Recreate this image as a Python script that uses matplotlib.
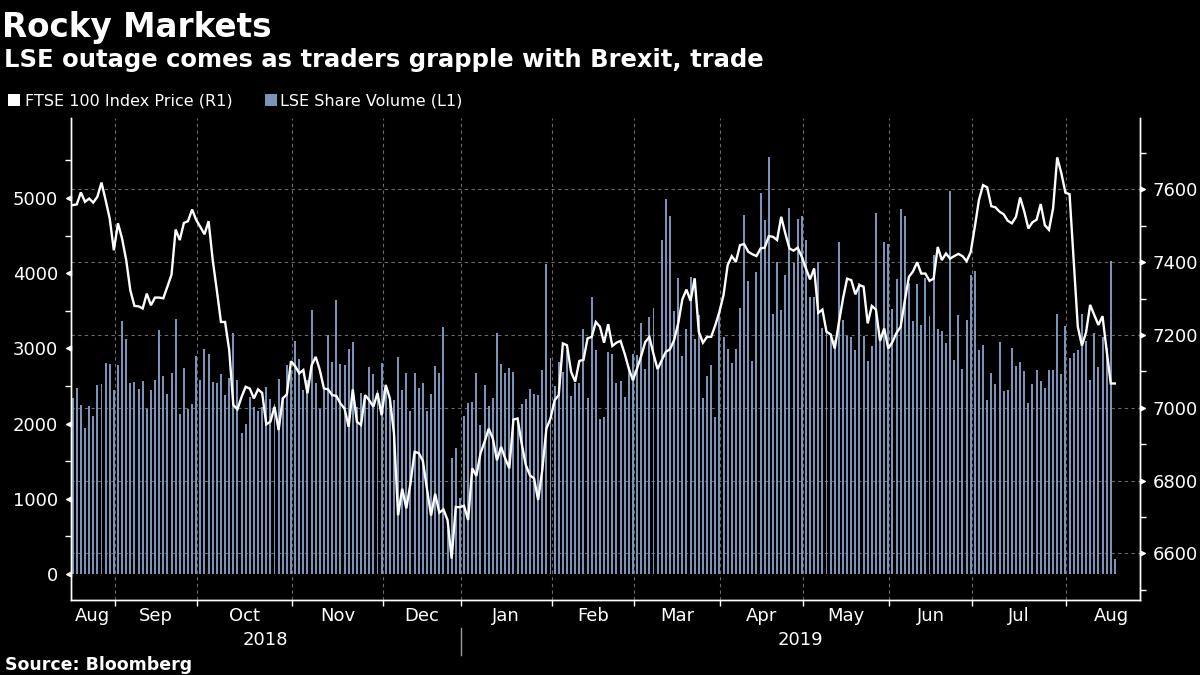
import matplotlib
matplotlib.use("Agg")
import matplotlib.pyplot as plt
import matplotlib.transforms as mtrans
from matplotlib.patches import Rectangle
import numpy as np
import pandas as pd

# ---------------- data ----------------
start_date = "2018-08-16"
end_date = "2019-08-16"
uk_holidays = ["2018-08-27", "2018-12-25", "2018-12-26", "2019-01-01",
               "2019-04-19", "2019-04-22", "2019-05-06", "2019-05-27"]

volume = [
    2334, 2471, 2245, 1944, 2232, 2099, 2511, 2524, 2804, 2790,
    2445, 2777, 3362, 3122, 2538, 2551, 2458, 2564, 2192, 2445,
    2578, 3242, 2631, 2391, 2671, 3388, 2126, 2737, 2192, 2259,
    2897, 2578, 2990, 2923, 2551, 2538, 2657, 2378, 2600, 3202,
    2578, 1873, 1993, 2352, 2219, 2166, 2219, 2485, 2325, 2259,
    2591, 2352, 2777, 2711, 3096, 2857, 2445, 2578, 3508, 2538,
    2192, 2445, 3176, 2817, 3641, 2790, 2777, 2990, 3083, 2223,
    2405, 2378, 2750, 2657, 2445, 2804, 2445, 2312, 2312, 2883,
    2445, 2671, 2166, 2671, 2471, 2538, 2166, 2392, 2764, 2671,
    3282, 600, 1541, 1674, 1010, 2099, 2272, 2285, 2671, 1980,
    2511, 2232, 2338, 3202, 2790, 2671, 2737, 2684, 2050, 2259,
    2325, 2458, 2392, 2378, 2711, 4119, 2870, 2498, 2817, 2684,
    2976, 2365, 2538, 2538, 3255, 2338, 3680, 2976, 2059, 2086,
    2950, 2923, 2538, 2564, 2352, 2755, 2923, 2910, 3335, 2724,
    3415, 3534, 2711, 4438, 4982, 4757, 3494, 3933, 2897, 3255,
    3946, 3122, 3441, 2338, 2631, 2777, 2086, 3468, 3149, 2990,
    2804, 2990, 3534, 4770, 3893, 2830, 4013, 5062, 4704, 5541,
    3455, 4146, 3508, 3973, 4863, 4132, 4717, 4757, 4438, 3680,
    3680, 4146, 3269, 3216, 3176, 3109, 4411, 3375, 3162, 3149,
    2976, 3866, 3162, 2830, 3029, 4796, 3109, 4411, 4385, 3521,
    3920, 4850, 4757, 3866, 3362, 3853, 3308, 3933, 3428, 4239,
    3255, 3229, 3069, 5089, 2843, 3441, 2724, 3375, 3973, 4026,
    2976, 3043, 2312, 2671, 2524, 3083, 2432, 2445, 3003, 2764,
    2817, 2697, 2272, 2524, 2711, 2564, 2471, 2711, 2711, 3455,
    2657, 3295, 2870, 2941, 2976, 3463, 3100, 2578, 3207, 2755,
    3153, 3000, 4159, 199,
]

ftse = [
    7557, 7559, 7592, 7566, 7575, 7564, 7580, 7619, 7571, 7520,
    7433, 7507, 7465, 7406, 7323, 7280, 7279, 7273, 7314, 7282,
    7303, 7303, 7301, 7333, 7366, 7490, 7461, 7508, 7513, 7545,
    7516, 7497, 7477, 7513, 7406, 7323, 7236, 7236, 7159, 7008,
    6996, 7030, 7058, 7053, 7026, 7051, 7041, 6955, 6962, 7003,
    6939, 7026, 7037, 7128, 7115, 7095, 7104, 7040, 7117, 7140,
    7104, 7053, 7051, 7035, 7033, 7012, 6998, 6948, 7051, 6962,
    6953, 7035, 7021, 7003, 7041, 6980, 7063, 7026, 6930, 6705,
    6778, 6724, 6792, 6879, 6876, 6855, 6778, 6704, 6764, 6712,
    6721, 6692, 6586, 6728, 6727, 6731, 6692, 6834, 6813, 6875,
    6907, 6943, 6916, 6856, 6893, 6861, 6834, 6968, 6971, 6902,
    6843, 6815, 6806, 6747, 6829, 6943, 6971, 7021, 7035, 7177,
    7172, 7099, 7072, 7129, 7132, 7191, 7195, 7236, 7223, 7179,
    7230, 7170, 7179, 7184, 7149, 7108, 7076, 7108, 7142, 7181,
    7195, 7148, 7106, 7131, 7154, 7161, 7186, 7232, 7298, 7325,
    7294, 7356, 7209, 7179, 7195, 7195, 7227, 7264, 7310, 7392,
    7417, 7401, 7447, 7450, 7429, 7422, 7417, 7438, 7440, 7472,
    7470, 7461, 7525, 7479, 7438, 7432, 7440, 7415, 7383, 7353,
    7383, 7261, 7270, 7209, 7202, 7163, 7234, 7300, 7355, 7351,
    7312, 7337, 7333, 7232, 7280, 7270, 7184, 7218, 7163, 7181,
    7206, 7223, 7294, 7360, 7375, 7400, 7369, 7369, 7349, 7355,
    7442, 7406, 7424, 7410, 7417, 7423, 7417, 7403, 7428, 7497,
    7571, 7612, 7606, 7554, 7551, 7539, 7532, 7514, 7507, 7525,
    7578, 7540, 7493, 7510, 7517, 7560, 7502, 7489, 7548, 7688,
    7645, 7591, 7587, 7405, 7223, 7171, 7207, 7283, 7255, 7228,
    7252, 7158, 7067, 7067,
]

vol_ticks = [0, 1000, 2000, 3000, 4000, 5000]
ftse_ticks = [6600, 6800, 7000, 7200, 7400, 7600]

title = "Rocky Markets"
subtitle = "LSE outage comes as traders grapple with Brexit, trade"
legend_price = "FTSE 100 Index Price (R1)"
legend_vol = "LSE Share Volume (L1)"
source = "Source: Bloomberg"

# ---------------- derived x positions ----------------
dates = pd.bdate_range(start_date, end_date, freq="C", holidays=uk_holidays)
n = min(len(dates), len(volume), len(ftse))
dates = dates[:n]
x = np.arange(n)

# month boundaries (first trading day of each new month)
months = dates.to_period("M")
first_idx = [i for i in range(1, n) if months[i] != months[i - 1]]
tick_off = 0.75
bounds = [i - tick_off for i in first_idx]

BG = "#000000"
BAR = "#7b93b8"
GRID = "#6a6a6a"
plt.rcParams["font.family"] = ["DejaVu Sans"]

fig = plt.figure(figsize=(12, 6.75), dpi=100, facecolor=BG)
ax = fig.add_axes([0.059, 0.111, 0.891, 0.714])
ax.set_facecolor(BG)
ax2 = ax.twinx()

xl = (-0.45, 259.1)
v_lim = (-345, 6060)
p_lim = (6472, 7796)

ax.set_xlim(*xl)
ax.set_ylim(*v_lim)
ax2.set_ylim(*p_lim)

# gridlines (drawn on bar axis, behind bars)
def p2v(p):
    return v_lim[0] + (p - p_lim[0]) / (p_lim[1] - p_lim[0]) * (v_lim[1] - v_lim[0])

for p in ftse_ticks:
    ax.axhline(p2v(p), color=GRID, lw=0.8, ls=(0, (3, 3)), zorder=0)
for b in bounds:
    ax.axvline(b, color=GRID, lw=0.8, ls=(0, (3, 3)), zorder=0)

ax.bar(x, volume[:n], width=0.48, color=BAR, zorder=2, linewidth=0)
ax2.plot(x, ftse[:n], color="white", lw=1.7, zorder=3, solid_joinstyle="miter")

# spines
for a in (ax, ax2):
    a.spines["top"].set_visible(False)
    for s in ("left", "right", "bottom"):
        a.spines[s].set_color("white")
        a.spines[s].set_linewidth(1.0)

# left axis ticks: triangle markers + labels
ax.set_yticks(vol_ticks)
ax.set_yticklabels([str(v) for v in vol_ticks])
ax.set_yticks([500, 1500, 2500, 3500, 4500, 5500], minor=True)
ax.tick_params(axis="y", which="major", length=0, pad=9, labelsize=13, labelcolor="white")
ax.tick_params(axis="y", which="minor", length=4, width=1, color="white", direction="out")
tri_left = [(0, -0.5), (0, 0.5), (-1, 0), (0, -0.5)]
ax.plot([0] * len(vol_ticks), vol_ticks, ls="none", marker=tri_left, ms=7, color="white",
        transform=mtrans.blended_transform_factory(ax.transAxes, ax.transData), clip_on=False, zorder=5)

ax2.set_yticks(ftse_ticks)
ax2.set_yticklabels([str(v) for v in ftse_ticks])
ax2.set_yticks([6500, 6700, 6900, 7100, 7300, 7500, 7700], minor=True)
ax2.tick_params(axis="y", which="major", length=0, pad=9, labelsize=13, labelcolor="white")
ax2.tick_params(axis="y", which="minor", length=4, width=1, color="white", direction="out")
tri_right = [(0, -0.5), (0, 0.5), (1, 0), (0, -0.5)]
ax2.plot([1] * len(ftse_ticks), ftse_ticks, ls="none", marker=tri_right, ms=7, color="white",
         transform=mtrans.blended_transform_factory(ax2.transAxes, ax2.transData), clip_on=False, zorder=5)

# x axis: boundary ticks and centred month labels
ax.set_xticks(bounds)
ax.set_xticklabels([])
ax.tick_params(axis="x", which="major", length=4, width=1, color="white", direction="out")
edges = [xl[0]] + bounds + [bounds[-1] + 22]
centers = [(edges[k] + edges[k + 1]) / 2 for k in range(len(edges) - 1)]
month_names = [months[0].strftime("%b")] + [months[i].strftime("%b") for i in first_idx]
ax.set_xticks(centers, minor=True)
ax.set_xticklabels(month_names, minor=True)
ax.tick_params(axis="x", which="minor", length=0, pad=5, labelsize=13, labelcolor="white")

# year labels and separator
trans_x = mtrans.blended_transform_factory(ax.transData, ax.transAxes)
jan_idx = [k for k, i in enumerate(first_idx) if dates[i].month == 1][0]
jan_b = bounds[jan_idx]
ax.text((xl[0] + jan_b) / 2, -0.083, str(dates[0].year), transform=trans_x, ha="center", va="center",
        color="white", fontsize=13)
ax.text((jan_b + xl[1]) / 2, -0.083, str(dates[-1].year), transform=trans_x, ha="center", va="center",
        color="white", fontsize=13)
ax.plot([jan_b, jan_b], [-0.058, -0.114], transform=trans_x, color="#9a9a9a", lw=1, clip_on=False)

# titles
fig.text(0.002, 0.945, title, color="white", fontsize=23.5, fontweight="bold", ha="left", va="baseline")
fig.text(0.003, 0.9, subtitle, color="white", fontsize=17.5, fontweight="bold", ha="left", va="baseline")

# legend
fig.patches.append(Rectangle((8 / 1200, 1 - 106 / 675), 12 / 1200, 12 / 675, transform=fig.transFigure,
                             facecolor="white", edgecolor="none"))
fig.text(25 / 1200, 1 - 106 / 675, legend_price, color="white", fontsize=11.5, ha="left", va="baseline")
fig.patches.append(Rectangle((265 / 1200, 1 - 106 / 675), 12 / 1200, 12 / 675, transform=fig.transFigure,
                             facecolor=BAR, edgecolor="none"))
fig.text(280 / 1200, 1 - 106 / 675, legend_vol, color="white", fontsize=11.5, ha="left", va="baseline")

fig.text(0.004, 1 - 670 / 675, source, color="white", fontsize=12.5, fontweight="bold", ha="left", va="baseline")

fig.savefig("out.png", dpi=100, facecolor=BG)
